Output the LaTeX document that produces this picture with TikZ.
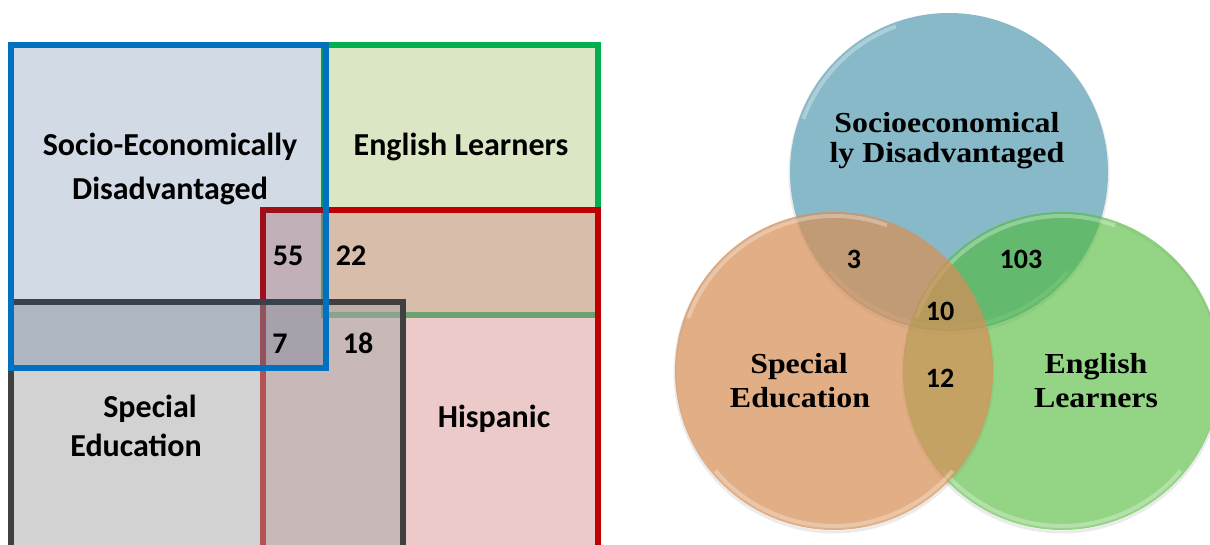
\documentclass[tikz,border=0pt]{standalone}
\usepackage{fontspec}
\setmainfont{Carlito}
\newfontfamily\venserif[FakeStretch=1.1]{Liberation Serif}
\definecolor{bluL}{HTML}{0070C0}
\definecolor{grnL}{HTML}{00B050}
\definecolor{redL}{HTML}{C00000}
\definecolor{gryL}{HTML}{404040}
\definecolor{bluF}{RGB}{31,73,125}
\definecolor{grnF}{HTML}{DBE6C4}
\definecolor{redF}{RGB}{217,150,148}
\definecolor{gryF}{RGB}{167,167,167}
\definecolor{cBlue}{RGB}{136,185,200}
\definecolor{cGreen}{RGB}{75,185,50}
\definecolor{cOrange}{RGB}{215,143,87}
\begin{document}
\begin{tikzpicture}[x=1pt,y=-1pt,
  boxline/.style={line width=6pt, line join=miter},
  lbl/.style={anchor=base, inner sep=0pt, font=\fontsize{32}{38}\selectfont\bfseries},
  num/.style={anchor=base, inner sep=0pt, font=\fontsize{30}{36}\selectfont\bfseries},
  vnum/.style={anchor=base, inner sep=0pt, font=\fontsize{28}{34}\selectfont\bfseries},
  vlbl/.style={anchor=base, inner sep=0pt, font=\venserif\fontsize{29}{34}\selectfont\bfseries},
  rim/.style={white, opacity=0.3, line width=4pt},
  shade/.style={black, opacity=0.08, line width=3pt}]
\useasboundingbox (0,0) rectangle (1210,545);
\clip (0,0) rectangle (1210,545);
\fill[white] (0,0) rectangle (1210,545);
% ---------- left: rectangles ----------
\fill[grnF] (324,45) rectangle (598,315);
\draw[boxline, grnL] (324,45) rectangle (598,315);
\fill[redF, fill opacity=0.5] (263,210) rectangle (598,600);
\draw[boxline, redL] (263,210) rectangle (598,600);
\fill[gryF, fill opacity=0.5] (11,302) rectangle (403,600);
\draw[boxline, gryL] (11,302) rectangle (403,600);
\fill[bluF, fill opacity=0.2] (11,45) rectangle (326,368);
\draw[boxline, bluL] (11,45) rectangle (326,368);
% labels
\node[lbl] (sedA) at (170,156) {Socio-Economically};
\node[lbl] (sedB) at (170,200) {Disadvantaged};
\node[lbl] (el) at (461,156) {English Learners};
\node[num] (n55) at (288,266) {55};
\node[num] (n22) at (351,266) {22};
\node[num] (n7) at (280,353) {7};
\node[num] (n18) at (358,353) {18};
\node[lbl] (spA) at (150,417) {Special};
\node[lbl] (spB) at (136,456) {Education};
\node[lbl] (hisp) at (494,427) {Hispanic};
% ---------- right: Venn circles ----------
\draw[shade] (949,174) circle (159);
\draw[shade] (1062,373) circle (159);
\draw[shade] (834,373) circle (159);
\fill[cBlue] (949,172) circle (159);
\draw[rim] (949,172) ++(40:155) arc (40:140:155);
\fill[cGreen, fill opacity=0.6] (1062,371) circle (159);
\draw[rim] (1062,371) ++(40:155) arc (40:140:155);
\draw[rim] (1062,371) ++(200:155) arc (200:290:155);
\fill[cOrange, fill opacity=0.72] (834,371) circle (159);
\draw[rim] (834,371) ++(40:155) arc (40:140:155);
\draw[rim] (834,371) ++(200:155) arc (200:290:155);
\draw[rim] (949,172) ++(200:155) arc (200:250:155);
% labels
\node[vlbl] (vsA) at (947,133) {Socioeconomical};
\node[vlbl] (vsB) at (947,163) {ly Disadvantaged};
\node[vlbl] (vspA) at (799,373) {Special};
\node[vlbl] (vspB) at (800,407) {Education};
\node[vlbl] (velA) at (1096,373) {English};
\node[vlbl] (velB) at (1096,407) {Learners};
\node[vnum] (v3) at (854,269) {3};
\node[vnum] (v103) at (1021,269) {103};
\node[vnum] (v10) at (940,320) {10};
\node[vnum] (v12) at (940,387) {12};
\end{tikzpicture}
\end{document}
